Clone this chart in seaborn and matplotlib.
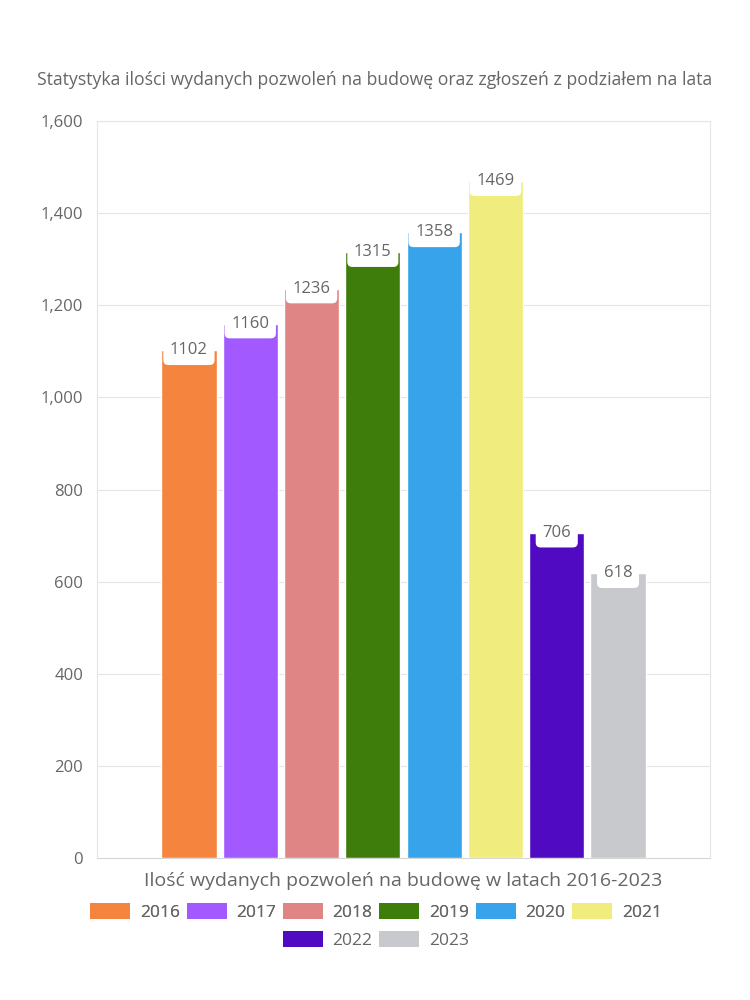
import matplotlib
matplotlib.use("Agg")
import matplotlib.pyplot as plt
import seaborn as sns
import pandas as pd
from matplotlib.patches import Patch
from matplotlib.ticker import FuncFormatter, FixedLocator

years = ["2016", "2017", "2018", "2019", "2020", "2021", "2022", "2023"]
values = [1102, 1160, 1236, 1315, 1358, 1469, 706, 618]
colors = ["#F5843F", "#A259FF", "#E08585", "#3E7D0C", "#37A3EA", "#F0EC7E", "#500BC2", "#C8C9CC"]
category = "Ilość wydanych pozwoleń na budowę w latach 2016-2023"
title = "Statystyka ilości wydanych pozwoleń na budowę oraz zgłoszeń z podziałem na lata"
yticks = [0, 200, 400, 600, 800, 1000, 1200, 1400, 1600]

sns.set_theme(style="white")
plt.rcParams["font.family"] = ["Open Sans", "DejaVu Sans"]
TXT = "#666666"
GRID = "#e5e5e5"

df = pd.DataFrame({"cat": [category] * len(years), "year": years, "value": values})

fig = plt.figure(figsize=(7.5, 10), dpi=100)
ax = fig.add_axes([97 / 750, 1 - 858 / 1000, (710 - 97) / 750, (858 - 121) / 1000])

sns.barplot(data=df, x="cat", y="value", hue="year", palette=colors, hue_order=years,
            width=0.8, gap=0.1, saturation=1, legend=False, ax=ax, zorder=3)

ax.set_ylim(0, 1600)
ax.set_xlim(-0.5, 0.5)
ax.set_yticks(yticks)
ax.yaxis.set_major_formatter(FuncFormatter(lambda v, p: f"{int(v):,}"))
ax.grid(axis="y", color=GRID, linewidth=0.8, zorder=0)
ax.set_xlabel("")
ax.set_ylabel("")
for s in ax.spines.values():
    s.set_color(GRID)
    s.set_linewidth(0.8)
ax.spines["bottom"].set_color("#d6d6d6")
ax.tick_params(axis="y", which="major", length=6, color=GRID, labelcolor=TXT, labelsize=12, pad=4)
ax.tick_params(axis="x", which="major", length=0, labelcolor=TXT, labelsize=14, pad=10)
ax.xaxis.set_minor_locator(FixedLocator([-0.5, 0.5]))
ax.tick_params(axis="x", which="minor", length=6, color=GRID)

for p in ax.patches:
    h = p.get_height()
    if h <= 0:
        continue
    ax.text(p.get_x() + p.get_width() / 2, h, f"{int(round(h))}", ha="center", va="center",
            fontsize=12, color=TXT, zorder=5,
            bbox=dict(boxstyle="round,pad=0.4,rounding_size=0.3", fc="white", ec="none"))

fig.text(375 / 750, 1 - 80 / 1000, title, ha="center", va="center", fontsize=12.7, color=TXT)

handles = [Patch(facecolor=c, edgecolor="none", label=y) for c, y in zip(colors, years)]
kw = dict(loc="center", frameon=False, fontsize=12.5, handlelength=2.3, handleheight=1.0,
          handletextpad=0.55, columnspacing=0.4, labelcolor=TXT, borderpad=0, borderaxespad=0)
leg1 = fig.legend(handles=handles[:6], bbox_to_anchor=(376 / 750, 1 - 912 / 1000), ncol=6, **kw)
fig.add_artist(leg1)
leg2 = fig.legend(handles=handles[6:], bbox_to_anchor=(376 / 750, 1 - 940 / 1000), ncol=2, **kw)

fig.savefig("out.png", dpi=100)
